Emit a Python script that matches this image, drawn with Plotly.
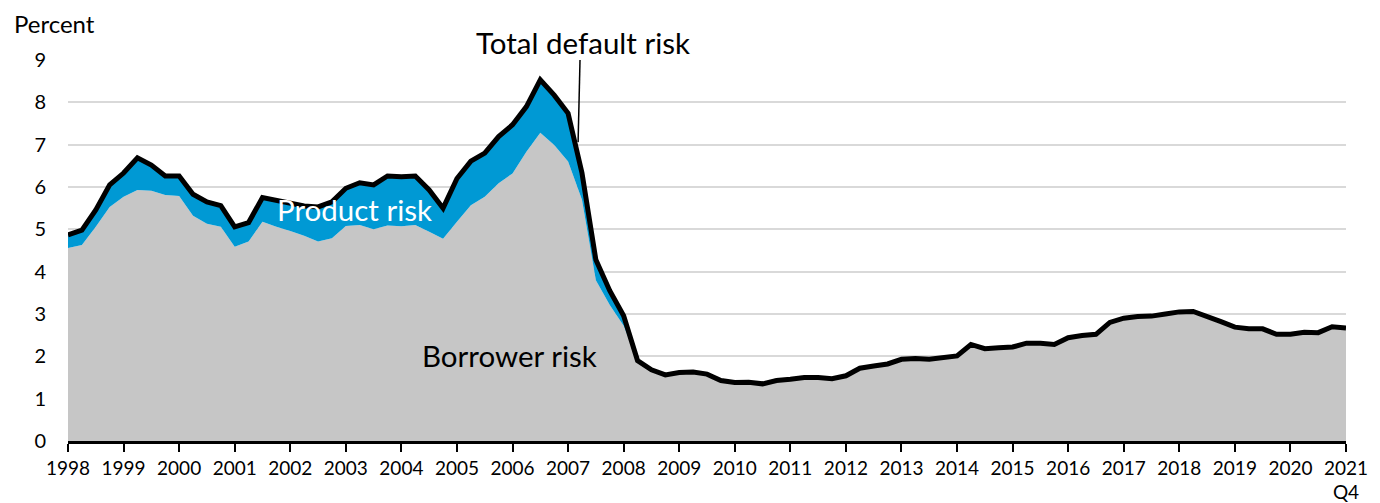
import plotly.graph_objects as go

# Quarterly, 1998Q4 .. 2021Q4
quarters = [f"{1998 + (i + 3) // 4}Q{(i + 3) % 4 + 1}" for i in range(93)]

total_default_risk = [
    4.87, 4.98, 5.46, 6.05, 6.33, 6.69, 6.52, 6.26, 6.26, 5.83,
    5.65, 5.56, 5.06, 5.16, 5.75, 5.69, 5.62, 5.55, 5.53, 5.65,
    5.97, 6.10, 6.05, 6.26, 6.24, 6.26, 5.93, 5.50, 6.20, 6.61,
    6.80, 7.19, 7.47, 7.90, 8.53, 8.17, 7.74, 6.33, 4.28, 3.55,
    2.96, 1.90, 1.68, 1.56, 1.62, 1.63, 1.58, 1.43, 1.38, 1.39,
    1.35, 1.43, 1.46, 1.50, 1.50, 1.47, 1.54, 1.72, 1.77, 1.82,
    1.93, 1.95, 1.93, 1.97, 2.01, 2.28, 2.18, 2.20, 2.22, 2.31,
    2.31, 2.28, 2.44, 2.49, 2.52, 2.80, 2.90, 2.94, 2.95, 3.00,
    3.05, 3.06, 2.95, 2.82, 2.69, 2.65, 2.65, 2.52, 2.52, 2.57,
    2.56, 2.70, 2.67,
]

borrower_risk = [
    4.56, 4.63, 5.06, 5.53, 5.77, 5.93, 5.91, 5.81, 5.79, 5.32,
    5.13, 5.06, 4.59, 4.71, 5.18, 5.06, 4.96, 4.85, 4.71, 4.79,
    5.08, 5.10, 5.00, 5.09, 5.07, 5.10, 4.94, 4.78, 5.18, 5.57,
    5.77, 6.09, 6.32, 6.83, 7.28, 6.99, 6.60, 5.70, 3.80, 3.21,
    2.72, 1.90, 1.68, 1.56, 1.62, 1.63, 1.58, 1.43, 1.38, 1.39,
    1.35, 1.43, 1.46, 1.50, 1.50, 1.47, 1.54, 1.72, 1.77, 1.82,
    1.93, 1.95, 1.93, 1.97, 2.01, 2.28, 2.18, 2.20, 2.22, 2.31,
    2.31, 2.28, 2.44, 2.49, 2.52, 2.80, 2.90, 2.94, 2.95, 3.00,
    3.05, 3.06, 2.95, 2.82, 2.69, 2.65, 2.65, 2.52, 2.52, 2.57,
    2.56, 2.70, 2.67,
]

tick_years = [str(y) for y in range(1998, 2021)] + ["2021<br>Q4"]
tick_quarters = [quarters[i] for i in range(0, 93, 4)]
y_ticks = list(range(0, 10))

FONT = "Lato"
GRAY = "#C6C6C6"
BLUE = "#0099D4"

fig = go.Figure()
fig.add_trace(go.Scatter(
    x=quarters, y=borrower_risk, mode="lines", fill="tozeroy",
    fillcolor=GRAY, line=dict(width=0, color=GRAY), name="Borrower risk",
    hoverinfo="skip",
))
fig.add_trace(go.Scatter(
    x=quarters, y=total_default_risk, mode="lines", fill="tonexty",
    fillcolor=BLUE, line=dict(width=5, color="black"), name="Total default risk",
    hoverinfo="skip",
))

fig.update_layout(
    width=1372, height=495,
    margin=dict(l=60, r=34, t=52, b=62, autoexpand=False),
    paper_bgcolor="white", plot_bgcolor="white",
    showlegend=False,
    font=dict(family=FONT, color="black", size=19),
    xaxis=dict(
        type="category", range=[0, 92], automargin=False,
        tickmode="array", tickvals=tick_quarters, ticktext=tick_years,
        showline=True, linecolor="black", linewidth=2.5,
        ticks="outside", ticklen=8, tickwidth=2, tickcolor="black",
        showgrid=False, zeroline=False,
        tickfont=dict(family=FONT, size=19, color="black"),
        tickangle=0,
    ),
    yaxis=dict(
        range=[0, 9], tickmode="array", tickvals=y_ticks, automargin=False,
        showgrid=True, gridcolor="#D9D9D9", gridwidth=2,
        zeroline=False, showline=False, ticks="",
        ticklabelstandoff=21,
        tickfont=dict(family=FONT, size=20, color="black"),
    ),
    annotations=[
        dict(text="Percent", xref="paper", yref="paper", x=-0.0438, y=1.097,
             xanchor="left", yanchor="middle", showarrow=False,
             font=dict(family=FONT, size=24, color="black")),
        dict(text="Total default risk", xref="paper", yref="paper", x=0.403, y=1.047,
             xanchor="center", yanchor="middle", showarrow=False,
             font=dict(family=FONT, size=29.5, color="black")),
        dict(text="Product risk", xref="x", yref="y", x=20.66, y=5.46,
             xanchor="center", yanchor="middle", showarrow=False,
             font=dict(family=FONT, size=29.5, color="white")),
        dict(text="Borrower risk", xref="x", yref="y", x=31.75, y=2.03,
             xanchor="center", yanchor="middle", showarrow=False,
             font=dict(family=FONT, size=29.5, color="black")),
    ],
    shapes=[
        dict(type="line", xref="x", yref="y", x0=36.86, y0=9.02, x1=36.72, y1=7.06,
             line=dict(color="black", width=1.5)),
    ],
)

fig.write_html("out.html")
